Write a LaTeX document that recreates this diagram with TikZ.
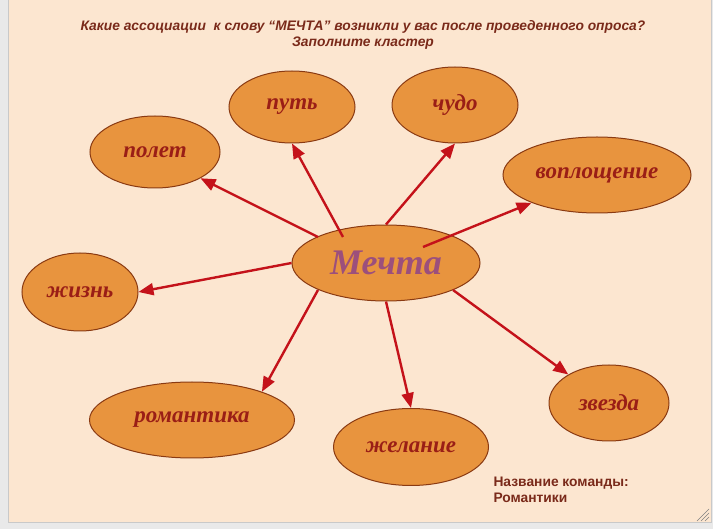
\documentclass[tikz,border=0pt]{standalone}
\usepackage{fontspec}
\setmainfont{Liberation Serif}
\setsansfont{Liberation Sans}
\usetikzlibrary{shapes.geometric, arrows.meta, positioning}
\definecolor{paper}{HTML}{FCE6D0}
\definecolor{frame}{HTML}{C9C9C9}
\definecolor{bubble}{HTML}{E8943E}
\definecolor{rim}{HTML}{8A3A12}
\definecolor{wordred}{HTML}{9A1E16}
\definecolor{heading}{HTML}{7A2A1A}
\definecolor{central}{HTML}{9C4F7C}
\definecolor{arrowred}{HTML}{C4121A}

\begin{document}
\begin{tikzpicture}[
    x=1pt, y=-1pt,
    idea/.style={ellipse, draw=rim, fill=bubble, line width=1pt, inner sep=0pt,
                 text=wordred, font=\fontsize{23}{26}\selectfont\bfseries\itshape},
    arrow/.style={-{Triangle[length=15pt,width=12pt]}, line width=2.4pt, color=arrowred}
  ]
    \useasboundingbox (0,0) rectangle (713,529);
    \fill[frame!40] (0,0) rectangle (713,529);
    \draw[fill=paper, draw=frame, line width=1pt] (8,-2) rectangle (711,523);

    % heading
    \node[text=heading, align=center, font=\sffamily\bfseries\itshape\fontsize{13.8}{16}\selectfont]
      (title) at (363,35) {Какие ассоциации \ к слову “МЕЧТА” возникли у вас после проведенного опроса?\\Заполните кластер};

    % centre
    \node[idea, minimum width=188, minimum height=76, text=central,
          font=\fontsize{36}{40}\selectfont\bfseries\itshape] (mechta) at (386,263) {Мечта};

    % associations
    \node[idea, minimum width=126, minimum height=72] (put)    at (292,107) {путь};
    \node[idea, minimum width=126, minimum height=76] (chudo)  at (455,105) {чудо};
    \node[idea, minimum width=130, minimum height=72] (polet)  at (155,152) {полет};
    \node[idea, minimum width=188, minimum height=76] (vopl)   at (597,175) {воплощение};
    \node[idea, minimum width=116, minimum height=78] (zhizn)  at (80,292)  {жизнь};
    \node[idea, minimum width=205, minimum height=76] (romant) at (192,420) {романтика};
    \node[idea, minimum width=155, minimum height=77] (zhel)   at (411,447) {желание};
    \node[idea, minimum width=120, minimum height=76] (zvezda) at (609,403) {звезда};

    % start points inside the centre
    \coordinate (s1) at (318,237);
    \coordinate (s2) at (343,237);
    \coordinate (s4) at (423,247);
    \coordinate (s6) at (318,290);
    \coordinate (s8) at (453,290);

    \draw[arrow] (s1) -- (polet.-30);
    \draw[arrow] (s2) -- (put.south);
    \draw[arrow] (mechta.north) -- (chudo.south);
    \draw[arrow] (s4) -- (vopl.203);
    \draw[arrow] (mechta.west) -- (zhizn.east);
    \draw[arrow] (s6) -- (romant.22);
    \draw[arrow] (mechta.south) -- (zhel.north);
    \draw[arrow] (s8) -- (zvezda.145);

    % team
    \node[text=heading, align=left, anchor=north west,
          font=\sffamily\bfseries\fontsize{13.8}{16}\selectfont] (team) at (490,473)
      {Название команды:\\Романтики};

    % resize grip
    \foreach \d in {4,8,12}
      \draw[gray, line width=0.6pt] (709-\d,521) -- (709,521-\d);
  \end{tikzpicture}
\end{document}
